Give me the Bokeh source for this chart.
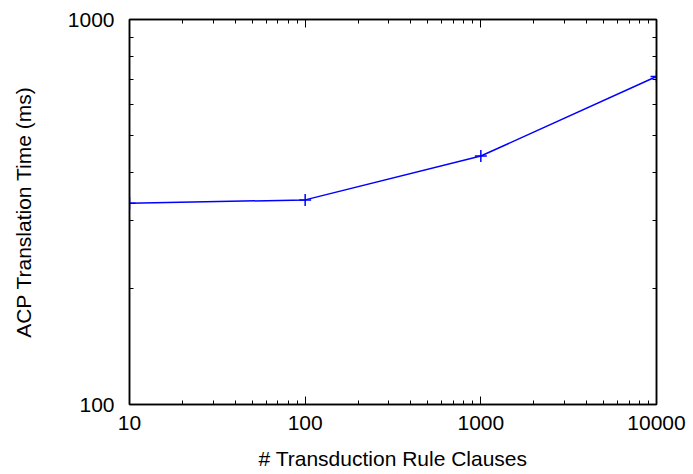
from bokeh.plotting import figure
from bokeh.models import LogAxis, FixedTicker
from bokeh.embed import file_html
from bokeh.resources import INLINE

# Translation time vs. number of transduction rule clauses
clauses = [10, 100, 1000, 10000]
time_ms = [333, 340, 442, 711]

x_ticks = [10, 100, 1000, 10000]
x_labels = ["10", "100", "1000", "10000"]
y_ticks = [100, 1000]
y_labels = ["100", "1000"]

FONT = "Liberation Sans"
BLUE = "#0000ff"

p = figure(
    width=693, height=474,
    x_axis_type="log", y_axis_type="log",
    x_range=(10, 10000), y_range=(100, 1000),
    output_backend="svg", toolbar_location=None,
    min_border_left=129, min_border_right=37,
    min_border_top=19, min_border_bottom=70,
)
p.background_fill_color = "white"
p.border_fill_color = "white"
p.outline_line_color = "black"
p.outline_line_width = 1.5
p.grid.visible = False

p.line(clauses, time_ms, line_color=BLUE, line_width=1.5)
p.scatter(clauses, time_ms, marker="cross", size=12, line_color=BLUE, line_width=1.5)


def style_axis(ax, ticks, labels):
    ax.axis_line_color = "black"
    ax.axis_line_width = 1.5
    ax.major_tick_in = 8
    ax.major_tick_out = 0
    ax.minor_tick_in = 4
    ax.minor_tick_out = 0
    ax.major_tick_line_color = "black"
    ax.minor_tick_line_color = "black"
    ax.major_tick_line_width = 1
    ax.minor_tick_line_width = 1
    ax.major_label_text_font = FONT
    ax.major_label_text_font_size = "21px"
    ax.major_label_text_color = "black"
    ax.axis_label_text_font = FONT
    ax.axis_label_text_font_size = "21px"
    ax.axis_label_text_font_style = "normal"
    ax.axis_label_text_color = "black"
    ax.major_label_overrides = dict(zip(ticks, labels))


x_minor = [m * d for d in (10, 100, 1000) for m in range(2, 10)]
y_minor = [m * 100 for m in range(2, 10)]

xa = p.xaxis[0]
xa.ticker = FixedTicker(ticks=x_ticks, minor_ticks=x_minor)
xa.axis_label = "# Transduction Rule Clauses"
xa.major_label_standoff = 11
xa.axis_label_standoff = 14
style_axis(xa, x_ticks, x_labels)

ya = p.yaxis[0]
ya.ticker = FixedTicker(ticks=y_ticks, minor_ticks=y_minor)
ya.axis_label = "ACP Translation Time (ms)"
ya.major_label_standoff = 15
ya.axis_label_standoff = 30
style_axis(ya, y_ticks, y_labels)

# mirrored ticks on the top and right edges, without labels
top = LogAxis(ticker=FixedTicker(ticks=x_ticks, minor_ticks=x_minor))
style_axis(top, x_ticks, [""] * len(x_ticks))
p.add_layout(top, "above")

right = LogAxis(ticker=FixedTicker(ticks=y_ticks, minor_ticks=y_minor))
style_axis(right, y_ticks, [""] * len(y_ticks))
p.add_layout(right, "right")

open("out.html", "w").write(file_html(p, INLINE))
